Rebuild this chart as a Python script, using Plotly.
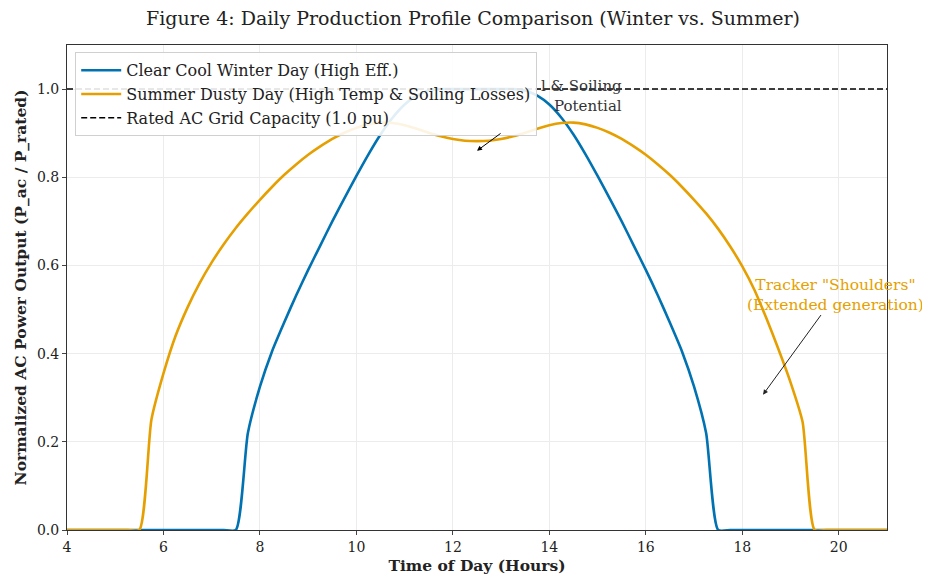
import plotly.graph_objects as go

hours = [4.0, 4.25, 4.5, 4.75, 5.0, 5.25, 5.5, 5.75, 6.0, 6.25, 6.5, 6.75,
         7.0, 7.25, 7.5, 7.75, 8.0, 8.25, 8.5, 8.75, 9.0, 9.25, 9.5, 9.75,
         10.0, 10.25, 10.5, 10.75, 11.0, 11.25, 11.5, 11.75, 12.0, 12.25, 12.5, 12.75,
         13.0, 13.25, 13.5, 13.75, 14.0, 14.25, 14.5, 14.75, 15.0, 15.25, 15.5, 15.75,
         16.0, 16.25, 16.5, 16.75, 17.0, 17.25, 17.5, 17.75, 18.0, 18.25, 18.5, 18.75,
         19.0, 19.25, 19.5, 19.75, 20.0, 20.25, 20.5, 20.75, 21.0]

winter = [0, 0, 0, 0, 0, 0, 0, 0, 0, 0, 0, 0,
          0, 0, 0, 0.22, 0.325, 0.405, 0.47, 0.532, 0.59, 0.645, 0.70, 0.752,
          0.803, 0.852, 0.897, 0.935, 0.965, 0.985, 0.997, 1.0, 1.0, 1.0, 1.0, 1.0,
          1.0, 1.0, 0.997, 0.985, 0.965, 0.935, 0.897, 0.852, 0.803, 0.752, 0.70, 0.645,
          0.59, 0.532, 0.47, 0.405, 0.325, 0.22, 0, 0, 0, 0, 0, 0,
          0, 0, 0, 0, 0, 0, 0, 0, 0]

summer = [0, 0, 0, 0, 0, 0, 0, 0.25, 0.355, 0.44, 0.505, 0.56,
          0.607, 0.648, 0.685, 0.718, 0.749, 0.778, 0.805, 0.829, 0.851, 0.870, 0.887, 0.901,
          0.912, 0.920, 0.924, 0.923, 0.918, 0.910, 0.901, 0.893, 0.887, 0.883, 0.882, 0.883,
          0.887, 0.893, 0.901, 0.910, 0.918, 0.923, 0.924, 0.920, 0.912, 0.901, 0.887, 0.870,
          0.851, 0.829, 0.805, 0.778, 0.749, 0.718, 0.683, 0.643, 0.598, 0.545, 0.48, 0.41,
          0.335, 0.245, 0, 0, 0, 0, 0, 0, 0]

rated_capacity = 1.0
x_ticks = [4, 6, 8, 10, 12, 14, 16, 18, 20]
y_ticks = [0.0, 0.2, 0.4, 0.6, 0.8, 1.0]

FONT = "DejaVu Serif"
BLUE = "#0072B2"
ORANGE = "#E69F00"

fig = go.Figure()
fig.add_trace(go.Scatter(x=hours, y=winter, mode="lines",
                         name="Clear Cool Winter Day (High Eff.)",
                         line=dict(color=BLUE, width=2.6, shape="spline", smoothing=0.6)))
fig.add_trace(go.Scatter(x=hours, y=summer, mode="lines",
                         name="Summer Dusty Day (High Temp & Soiling Losses)",
                         line=dict(color=ORANGE, width=2.6, shape="spline", smoothing=0.6)))
fig.add_trace(go.Scatter(x=[4, 21], y=[rated_capacity, rated_capacity], mode="lines",
                         name="Rated AC Grid Capacity (1.0 pu)",
                         line=dict(color="black", width=1.5, dash="6px,3px")))

# Arrow for midday dip (its label is mostly hidden behind the legend in the reference)
fig.add_annotation(x=12.5, y=0.86, ax=13.02, ay=0.902, xref="x", yref="y",
                   axref="x", ayref="y", text="", showarrow=True,
                   arrowhead=2, arrowsize=1, arrowwidth=1, arrowcolor="black")
fig.add_annotation(x=15.55, y=0.985, xref="x", yref="y", xanchor="right", yanchor="middle",
                   text="l & Soiling<br>Potential", showarrow=False, align="right",
                   font=dict(family=FONT, size=15, color="#333333"))

fig.add_annotation(x=18.43, y=0.307, ax=19.94, ay=0.534, xref="x", yref="y",
                   axref="x", ayref="y",
                   text='Tracker "Shoulders"<br>(Extended generation)',
                   showarrow=True, arrowhead=2, arrowsize=1, arrowwidth=1,
                   arrowcolor="#222222", align="center",
                   font=dict(family=FONT, size=15.5, color=ORANGE))

fig.update_layout(
    width=930, height=580,
    margin=dict(l=59, r=51, t=37, b=58),
    paper_bgcolor="white", plot_bgcolor="white",
    font=dict(family=FONT, size=15, color="#222222"),
    title=dict(text="Figure 4: Daily Production Profile Comparison (Winter vs. Summer)",
               x=0.5, xanchor="center", y=0.983, yanchor="middle",
               font=dict(family=FONT, size=19, color="#222222")),
    legend=dict(x=0.01, y=0.985, xanchor="left", yanchor="top",
                bgcolor="rgba(255,255,255,0.88)", bordercolor="#d0d0d0", borderwidth=1,
                font=dict(family=FONT, size=16, color="#222222"),
                tracegroupgap=0, itemwidth=40),
    showlegend=True,
)
fig.update_xaxes(range=[4, 21], tickvals=x_ticks, ticks="outside", ticklen=4,
                 showline=True, linecolor="#333333", linewidth=1, mirror=True,
                 showgrid=True, gridcolor="#ececec", gridwidth=1, zeroline=False,
                 tickfont=dict(family=FONT, size=14, color="#222222"),
                 title=dict(text="<b>Time of Day (Hours)</b>", standoff=6,
                            font=dict(family=FONT, size=15.5, color="#222222")))
fig.update_yaxes(range=[0, 1.1], tickvals=y_ticks, tickformat=".1f", ticks="outside", ticklen=4,
                 showline=True, linecolor="#333333", linewidth=1, mirror=True,
                 showgrid=True, gridcolor="#ececec", gridwidth=1, zeroline=False,
                 tickfont=dict(family=FONT, size=14, color="#222222"),
                 title=dict(text="<b>Normalized AC Power Output (P_ac / P_rated)</b>", standoff=6,
                            font=dict(family=FONT, size=15.5, color="#222222")))

fig.write_html("out.html")
